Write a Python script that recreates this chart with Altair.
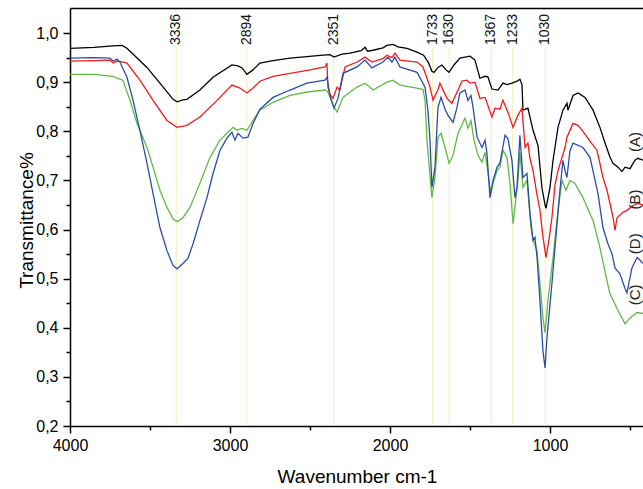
import altair as alt
import pandas as pd

# ---------------- data ----------------
wn_A = [4000, 3850, 3731, 3675, 3644, 3519, 3438, 3356, 3331, 3294, 3269, 3188, 3106, 2988, 2950, 2925, 2894, 2856,
        2813, 2731, 2625, 2519, 2419, 2375, 2350, 2300, 2250, 2180, 2156, 2140, 2106, 2044, 2019, 1981, 1950, 1894,
        1831, 1790, 1760, 1738, 1725, 1700, 1675, 1650, 1631, 1600, 1563, 1500, 1469, 1438, 1406, 1388, 1363, 1325,
        1294, 1269, 1238, 1206, 1188, 1175, 1169, 1138, 1106, 1075, 1050, 1031, 1025, 1000, 981, 950, 919, 894, 888,
        856, 825, 781, 731, 688, 656, 625, 606, 575, 550, 531, 500, 469, 450, 419]
t_A = [0.969, 0.971, 0.974, 0.975, 0.969, 0.930, 0.898, 0.865, 0.860, 0.864, 0.865, 0.884, 0.910, 0.935, 0.933, 0.929,
       0.916, 0.925, 0.939, 0.944, 0.949, 0.952, 0.955, 0.956, 0.951, 0.957, 0.959, 0.964, 0.971, 0.963, 0.965, 0.970,
       0.975, 0.977, 0.972, 0.969, 0.961, 0.955, 0.940, 0.922, 0.920, 0.930, 0.935, 0.925, 0.920, 0.935, 0.949, 0.953,
       0.945, 0.908, 0.912, 0.911, 0.886, 0.884, 0.898, 0.895, 0.898, 0.902, 0.906, 0.895, 0.843, 0.847, 0.802, 0.771,
       0.684, 0.650, 0.643, 0.686, 0.741, 0.808, 0.843, 0.857, 0.843, 0.873, 0.878, 0.869, 0.843, 0.808, 0.776, 0.747,
       0.735, 0.727, 0.718, 0.727, 0.724, 0.741, 0.745, 0.741]

wn_B = [4000, 3850, 3750, 3731, 3706, 3669, 3644, 3563, 3481, 3394, 3331, 3269, 3188, 3081, 2988, 2938, 2894, 2856,
        2813, 2731, 2625, 2500, 2406, 2394, 2388, 2375, 2356, 2331, 2313, 2281, 2206, 2156, 2113, 2044, 2019, 1988,
        1969, 1938, 1831, 1794, 1760, 1750, 1731, 1700, 1688, 1644, 1613, 1575, 1550, 1519, 1500, 1469, 1438, 1406,
        1363, 1344, 1313, 1294, 1263, 1231, 1200, 1175, 1156, 1138, 1125, 1106, 1081, 1063, 1044, 1025, 1006, 988,
        969, 950, 906, 894, 856, 825, 794, 750, 706, 669, 644, 625, 606, 594, 581, 544, 519, 481, 450, 419]
t_B = [0.943, 0.944, 0.945, 0.939, 0.943, 0.941, 0.939, 0.904, 0.863, 0.822, 0.808, 0.812, 0.829, 0.863, 0.894, 0.888,
       0.878, 0.888, 0.902, 0.912, 0.918, 0.925, 0.931, 0.939, 0.890, 0.875, 0.867, 0.890, 0.884, 0.931, 0.941, 0.951,
       0.941, 0.948, 0.955, 0.950, 0.959, 0.945, 0.941, 0.931, 0.900, 0.890, 0.863, 0.885, 0.898, 0.867, 0.857, 0.884,
       0.902, 0.904, 0.898, 0.900, 0.867, 0.869, 0.829, 0.847, 0.845, 0.863, 0.839, 0.808, 0.833, 0.847, 0.767, 0.776,
       0.745, 0.720, 0.670, 0.640, 0.585, 0.543, 0.580, 0.624, 0.690, 0.720, 0.767, 0.788, 0.816, 0.812, 0.800, 0.780,
       0.761, 0.706, 0.680, 0.653, 0.625, 0.598, 0.624, 0.635, 0.639, 0.649, 0.653, 0.650]

wn_C = [4000, 3850, 3731, 3706, 3669, 3625, 3581, 3519, 3481, 3438, 3394, 3356, 3331, 3294, 3250, 3188, 3125, 3063,
        3019, 2981, 2956, 2925, 2894, 2856, 2813, 2731, 2625, 2519, 2406, 2388, 2356, 2331, 2294, 2206, 2156, 2106,
        2019, 1981, 1938, 1831, 1794, 1781, 1769, 1744, 1738, 1719, 1700, 1681, 1656, 1631, 1606, 1575, 1531, 1513,
        1494, 1475, 1450, 1425, 1406, 1388, 1369, 1356, 1331, 1313, 1294, 1269, 1250, 1231, 1200, 1188, 1169, 1144,
        1119, 1106, 1081, 1063, 1044, 1031, 1013, 981, 950, 925, 900, 875, 844, 794, 731, 688, 644, 625, 575, 531,
        500, 456, 419]
t_C = [0.916, 0.916, 0.912, 0.908, 0.904, 0.863, 0.816, 0.767, 0.727, 0.680, 0.645, 0.622, 0.616, 0.624, 0.645, 0.694,
       0.747, 0.782, 0.796, 0.808, 0.802, 0.806, 0.802, 0.822, 0.843, 0.859, 0.873, 0.880, 0.884, 0.880, 0.853, 0.839,
       0.869, 0.890, 0.898, 0.884, 0.900, 0.904, 0.894, 0.888, 0.885, 0.863, 0.782, 0.686, 0.665, 0.706, 0.788, 0.796,
       0.767, 0.735, 0.751, 0.796, 0.827, 0.806, 0.822, 0.782, 0.751, 0.737, 0.757, 0.716, 0.673, 0.694, 0.720, 0.727,
       0.761, 0.747, 0.694, 0.612, 0.700, 0.757, 0.686, 0.700, 0.604, 0.578, 0.557, 0.490, 0.420, 0.390, 0.455, 0.543,
       0.639, 0.700, 0.680, 0.700, 0.694, 0.665, 0.618, 0.563, 0.496, 0.469, 0.435, 0.408, 0.420, 0.431, 0.429]

wn_D = [4000, 3850, 3750, 3731, 3706, 3688, 3644, 3606, 3563, 3519, 3481, 3438, 3394, 3356, 3331, 3294, 3263, 3231,
        3188, 3144, 3106, 3063, 3019, 2988, 2969, 2950, 2919, 2888, 2856, 2813, 2731, 2625, 2519, 2406, 2394, 2375,
        2350, 2325, 2294, 2206, 2156, 2113, 2044, 2013, 1988, 1969, 1938, 1831, 1781, 1763, 1750, 1738, 1719, 1700,
        1681, 1656, 1638, 1606, 1581, 1563, 1531, 1513, 1494, 1481, 1456, 1425, 1406, 1394, 1375, 1356, 1331, 1313,
        1281, 1263, 1238, 1219, 1206, 1188, 1169, 1144, 1125, 1106, 1094, 1081, 1063, 1044, 1031, 1019, 988, 956,
        938, 919, 906, 894, 875, 856, 794, 750, 700, 669, 638, 613, 594, 563, 531, 519, 488, 456, 438, 419]
t_D = [0.949, 0.950, 0.949, 0.943, 0.947, 0.941, 0.910, 0.863, 0.802, 0.735, 0.673, 0.604, 0.557, 0.527, 0.520, 0.531,
       0.541, 0.571, 0.618, 0.665, 0.714, 0.761, 0.786, 0.798, 0.782, 0.796, 0.786, 0.788, 0.816, 0.845, 0.869, 0.884,
       0.898, 0.904, 0.910, 0.873, 0.847, 0.867, 0.918, 0.931, 0.945, 0.929, 0.941, 0.951, 0.941, 0.951, 0.931, 0.920,
       0.890, 0.843, 0.782, 0.686, 0.727, 0.849, 0.869, 0.845, 0.833, 0.818, 0.849, 0.878, 0.884, 0.863, 0.873, 0.849,
       0.788, 0.767, 0.782, 0.755, 0.665, 0.700, 0.727, 0.735, 0.792, 0.785, 0.741, 0.665, 0.686, 0.792, 0.706, 0.714,
       0.633, 0.578, 0.584, 0.543, 0.455, 0.353, 0.318, 0.380, 0.490, 0.612, 0.680, 0.741, 0.720, 0.706, 0.761, 0.776,
       0.767, 0.747, 0.673, 0.604, 0.571, 0.551, 0.522, 0.510, 0.480, 0.471, 0.522, 0.543, 0.538, 0.531]

series_names = ["A", "B", "C", "D"]
series_colors = ["#000000", "#ee1c1c", "#62b946", "#2a4ea6"]

peaks = [3336, 2894, 2351, 1733, 1630, 1367, 1233, 1030]
peak_line_bottom = 0.2
peak_line_top = 0.971
peak_label_y = 0.9755

label_texts = ["(A)", "(B)", "(D)", "(C)"]
label_wn = [470, 470, 470, 470]
label_t = [0.778, 0.661, 0.571, 0.467]

x_major = [4000, 3000, 2000, 1000]
x_minor = [3500, 2500, 1500, 500]
y_major = [0.2, 0.3, 0.4, 0.5, 0.6, 0.7, 0.8, 0.9, 1.0]
y_minor = [0.25, 0.35, 0.45, 0.55, 0.65, 0.75, 0.85, 0.95]

# ---------------- tables ----------------
rows = []
for name, wns, ts in zip(series_names, [wn_A, wn_B, wn_C, wn_D], [t_A, t_B, t_C, t_D]):
    for w, t in zip(wns, ts):
        rows.append({"wn": w, "t": t, "series": name})
spectra = pd.DataFrame(rows)

peak_df = pd.DataFrame({"wn": peaks, "lo": [peak_line_bottom] * len(peaks),
                        "hi": [peak_line_top] * len(peaks), "ly": [peak_label_y] * len(peaks),
                        "txt": [str(p) for p in peaks]})
lab_df = pd.DataFrame({"wn": label_wn, "t": label_t, "txt": label_texts})

FONT = "Liberation Sans"
xscale = alt.Scale(domain=[4000, 418.75], nice=False, zero=False)
yscale = alt.Scale(domain=[0.2, 1.051], nice=False, zero=False)

common_axis = dict(domainColor="black", tickColor="black", labelColor="black", titleColor="black",
                   labelFont=FONT, titleFont=FONT, grid=False)

x_main = alt.Axis(values=x_major, orient="bottom", title="Wavenumber cm-1", tickSize=7, tickWidth=1.5,
                  domainWidth=1.5, labelFontSize=16, labelPadding=4, labelFlush=False, format="d",
                  titleFontSize=19, titleFontWeight="normal", titleX=287, titleY=56,
                  titleAlign="center", titleBaseline="alphabetic", **common_axis)
y_main = alt.Axis(values=y_major, orient="left", title="Transmittance%", tickSize=7, tickWidth=1.5,
                  domainWidth=1.5, labelFontSize=16, labelPadding=5,
                  labelExpr="replace(format(datum.value, '.1f'), '.', ',')",
                  titleFontSize=19, titleFontWeight="normal", titleX=-38, titleY=212,
                  titleAngle=270, titleAlign="center", titleBaseline="alphabetic", **common_axis)
x_minor_ax = alt.Axis(values=x_minor, orient="bottom", title=None, labels=False, domain=False,
                      tickSize=4, tickWidth=1.5, tickColor="black", grid=False)
y_minor_ax = alt.Axis(values=y_minor, orient="left", title=None, labels=False, domain=False,
                      tickSize=4, tickWidth=1.5, tickColor="black", grid=False)
x_top = alt.Axis(orient="top", title=None, labels=False, ticks=False, domain=True,
                 domainColor="black", domainWidth=1.5, grid=False)

rules = alt.Chart(peak_df).mark_rule(color="#f4efb8", strokeWidth=1).encode(
    x=alt.X("wn:Q", scale=xscale, axis=x_minor_ax),
    y=alt.Y("lo:Q", scale=yscale, axis=y_minor_ax),
    y2="hi:Q",
)

lines = alt.Chart(spectra).mark_line(strokeWidth=1.3, clip=True).encode(
    x=alt.X("wn:Q", scale=xscale, axis=x_main),
    y=alt.Y("t:Q", scale=yscale, axis=y_main),
    color=alt.Color("series:N", scale=alt.Scale(domain=series_names, range=series_colors), legend=None),
    order=alt.Order("wn:Q", sort="descending"),
)

peak_text = alt.Chart(peak_df).mark_text(angle=270, align="left", baseline="middle", font=FONT,
                                         fontSize=14, color="#111111").encode(
    x=alt.X("wn:Q", scale=xscale, axis=x_top),
    y=alt.Y("ly:Q", scale=yscale, axis=None),
    text="txt:N",
)

series_text = alt.Chart(lab_df).mark_text(angle=270, align="center", baseline="middle", font=FONT,
                                          fontSize=15, color="#222222").encode(
    x=alt.X("wn:Q", scale=xscale, axis=None),
    y=alt.Y("t:Q", scale=yscale, axis=None),
    text="txt:N",
)

chart = alt.layer(rules, lines, peak_text, series_text).resolve_axis(
    x="independent", y="independent"
).properties(
    width=573, height=418, autosize="none",
    padding={"left": 70, "top": 8, "right": 0, "bottom": 63},
    background="white",
).configure_view(stroke=None)

chart.save("out.html", embed_options={"renderer": "svg", "actions": False})
